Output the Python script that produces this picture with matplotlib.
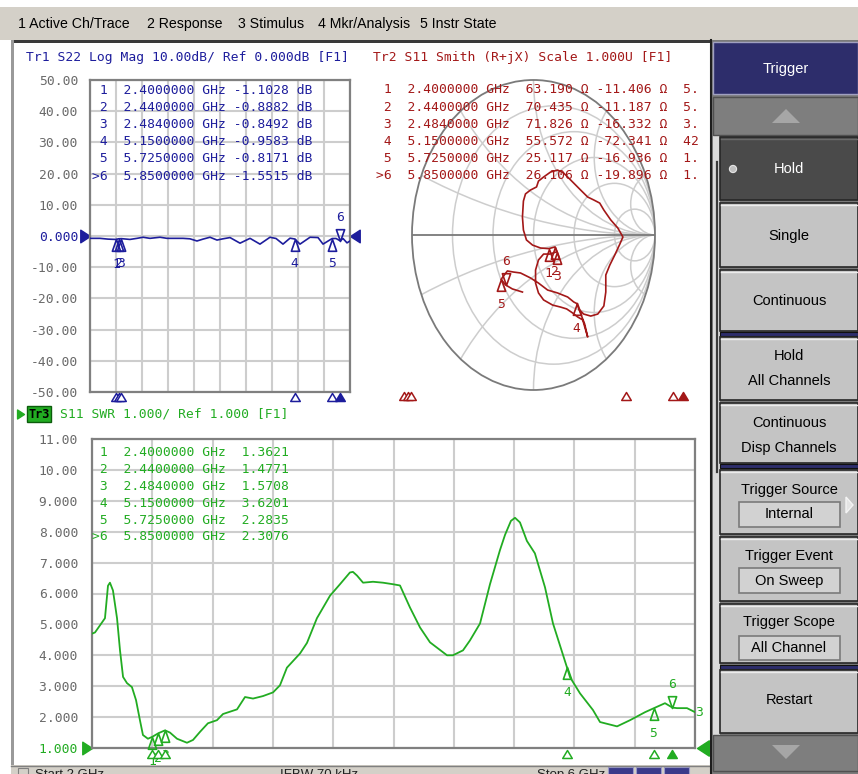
import numpy as np
import matplotlib
matplotlib.use("Agg")
import matplotlib.pyplot as plt
from matplotlib.patches import Rectangle, Circle, Polygon
from matplotlib.path import Path
from matplotlib.transforms import Bbox, TransformedBbox

# ---------------- data ----------------
FREQ_START, FREQ_STOP = 2.0, 6.0          # GHz
marker_ids = ['1', '2', '3', '4', '5', '6']
marker_freq = [2.40, 2.44, 2.484, 5.15, 5.725, 5.85]
active_marker = 5

tr1_marker_db = [-1.1028, -0.8882, -0.8492, -0.9583, -0.8171, -1.5515]
tr2_marker_r = [63.190, 70.435, 71.826, 55.572, 25.117, 26.106]
tr2_marker_x = [-11.406, -11.187, -16.332, -72.341, -16.936, -19.896]
tr3_marker_swr = [1.3621, 1.4771, 1.5708, 3.6201, 2.2835, 2.3076]

tr1_freq = [2.000, 2.154, 2.277, 2.400, 2.440, 2.484, 2.615, 2.723, 2.815, 2.923,
            3.077, 3.185, 3.431, 3.538, 3.646, 3.738, 3.846, 3.954, 4.046, 4.154,
            4.308, 4.462, 4.615, 4.769, 4.862, 4.969, 5.077, 5.150, 5.231, 5.385,
            5.508, 5.585, 5.725, 5.785, 5.850, 5.892, 5.954, 6.000]
tr1_db = [-0.75, -0.75, -1.0, -1.1028, -0.8882, -0.8492, -1.1, -0.75, -0.4, -0.75,
          -0.4, -0.75, -0.75, -0.9, -1.6, -1.0, -0.4, -1.3, -0.9, -0.5,
          -2.3, -0.75, -2.6, -0.4, -0.8, -2.6, -0.7, -0.9583, -2.6, -0.4,
          -0.5, -2.6, -0.8171, -0.8, -1.5515, -0.8, -2.2, -1.6]

tr3_freq = [2.000, 2.020, 2.053, 2.086, 2.106, 2.119, 2.139, 2.166, 2.186, 2.206,
            2.232, 2.265, 2.292, 2.318, 2.338, 2.371, 2.400, 2.440, 2.484, 2.517,
            2.564, 2.630, 2.670, 2.716, 2.769, 2.829, 2.869, 2.962, 3.015, 3.068,
            3.134, 3.201, 3.247, 3.293, 3.380, 3.426, 3.492, 3.579, 3.645, 3.711,
            3.731, 3.758, 3.798, 3.864, 3.930, 3.997, 4.043, 4.109, 4.176, 4.242,
            4.355, 4.394, 4.461, 4.507, 4.574, 4.640, 4.706, 4.740, 4.779, 4.806,
            4.839, 4.885, 4.938, 5.005, 5.058, 5.150, 5.171, 5.237, 5.323, 5.370,
            5.483, 5.569, 5.669, 5.725, 5.801, 5.850, 5.881, 5.947, 6.000]
tr3_swr = [4.70, 4.74, 4.97, 5.20, 6.25, 6.35, 6.10, 5.20, 4.15, 3.30,
           3.10, 2.97, 2.55, 1.90, 1.42, 1.30, 1.3621, 1.4771, 1.5708, 1.50,
           1.30, 1.17, 1.26, 1.52, 1.80, 1.90, 2.10, 2.25, 2.65, 2.60,
           2.68, 2.80, 3.03, 3.60, 4.06, 4.40, 5.20, 5.93, 6.30, 6.68,
           6.70, 6.58, 6.35, 6.38, 6.35, 6.30, 6.26, 5.55, 4.90, 4.42,
           4.00, 4.00, 4.16, 4.48, 5.03, 6.30, 7.40, 7.90, 8.35, 8.45,
           8.30, 7.70, 7.30, 6.20, 5.03, 3.6201, 3.29, 2.77, 2.23, 1.84,
           1.70, 1.90, 2.16, 2.2835, 2.45, 2.3076, 2.29, 2.29, 2.16]

# Smith trace, reflection coefficient (real, imag)
smith_re = [0.380, 0.413, 0.471, 0.529, 0.579, 0.595, 0.595, 0.628, 0.669, 0.711, 0.736,
            0.694, 0.636, 0.579, 0.545, 0.496, 0.446, 0.388, 0.331, 0.289, 0.248, 0.198,
            0.140, 0.083, 0.041, 0.025, -0.025, -0.066, -0.083, -0.091, -0.083, -0.058,
            -0.008, 0.058, 0.126, 0.177, 0.194,
            0.132, 0.083, 0.041, 0.017, 0.017, 0.041, 0.083, 0.157, 0.223, 0.273, 0.322,
            0.364, 0.405, 0.446, 0.421, 0.356,
            0.331, 0.281, 0.198, 0.116, 0.041, -0.025, -0.107, -0.165, -0.215, -0.267,
            -0.230, -0.174, -0.091]
smith_im = [-0.484, -0.510, -0.523, -0.510, -0.458, -0.368, -0.258, -0.194, -0.129, -0.058, -0.013,
            0.045, 0.097, 0.161, 0.206, 0.226, 0.245, 0.290, 0.335, 0.368, 0.400, 0.419,
            0.406, 0.374, 0.348, 0.310, 0.290, 0.265, 0.219, 0.116, 0.032, -0.032,
            -0.065, -0.084, -0.088, -0.077, -0.108,
            -0.123, -0.123, -0.161, -0.226, -0.310, -0.374, -0.419, -0.452, -0.465, -0.477, -0.503,
            -0.529, -0.548, -0.658, -0.574, -0.442,
            -0.432, -0.400, -0.374, -0.355, -0.310, -0.277, -0.245, -0.239, -0.232, -0.286,
            -0.322, -0.348, -0.368]

tr1_yticks = [50, 40, 30, 20, 10, 0, -10, -20, -30, -40, -50]
tr1_ylabels = ['50.00', '40.00', '30.00', '20.00', '10.00', '0.000',
               '-10.00', '-20.00', '-30.00', '-40.00', '-50.00']
tr3_yticks = [11, 10, 9, 8, 7, 6, 5, 4, 3, 2, 1]
tr3_ylabels = ['11.00', '10.00', '9.000', '8.000', '7.000', '6.000',
               '5.000', '4.000', '3.000', '2.000', '1.000']
smith_r_circles = [0.2, 0.5, 1.0, 2.0, 5.0]
smith_x_arcs = [0.2, 0.5, 1.0, 2.0, 5.0]

menu_items = ['1 Active Ch/Trace', '2 Response', '3 Stimulus', '4 Mkr/Analysis', '5 Instr State']
tr1_title = 'Tr1 S22 Log Mag 10.00dB/ Ref 0.000dB [F1]'
tr2_title = 'Tr2 S11 Smith (R+jX) Scale 1.000U [F1]'
tr3_title = 'S11 SWR 1.000/ Ref 1.000 [F1]'
status_items = ['Start 2 GHz', 'IFBW 70 kHz', 'Stop 6 GHz']

# ---------------- style ----------------
W, H = 858, 774
BLUE = '#1d1d9c'
RED = '#a31818'
GREEN = '#22ac22'
GRID = '#cdcdcd'
FRAME = '#808080'
TICK = '#6a6a6a'
MONO = 'DejaVu Sans Mono'
SANS = 'Liberation Sans'
FS = 9.4
MENU_BG = '#d4d0c8'
NAVY = '#2d2d6b'
BTN = '#c4c4c4'

fig = plt.figure(figsize=(W / 100, H / 100), dpi=100)


def px_axes(x0, y0, x1, y1):
    return fig.add_axes([x0 / W, 1 - y1 / H, (x1 - x0) / W, (y1 - y0) / H])


def px_canvas():
    a = px_axes(0, 0, W, H)
    a.set_xlim(0, W)
    a.set_ylim(H, 0)
    a.axis('off')
    return a


C3 = [Path.MOVETO, Path.LINETO, Path.LINETO, Path.CLOSEPOLY]
TRI_BELOW = Path([(0, 0), (-0.35, -1), (0.35, -1), (0, 0)], C3)
TRI_ABOVE = Path([(0, 0), (-0.35, 1), (0.35, 1), (0, 0)], C3)
TRI_SMALL = Path([(0, 0), (-0.6, -1), (0.6, -1), (0, 0)], C3)
ARROW_R = Path([(0, 0), (-1, 0.65), (-1, -0.65), (0, 0)], C3)
ARROW_L = Path([(0, 0), (1, 0.65), (1, -0.65), (0, 0)], C3)

# ---------------- background / chrome ----------------
bg = px_canvas()
bg.add_patch(Rectangle((0, 0), W, H, fc='white', ec='none'))
bg.add_patch(Rectangle((0, 7), W, 33, fc=MENU_BG, ec='none'))
for label_s, x in zip(menu_items, [18, 147, 238, 318, 420]):
    bg.text(x, 24, label_s, fontsize=10.2, family=SANS, va='center', ha='left', color='black')
bg.add_patch(Rectangle((11, 40), 700, 2.5, fc='#3a3a3a', ec='none'))
bg.add_patch(Rectangle((11, 40), 3, 730, fc='#9a9a9a', ec='none'))

# status bar (only the top of it is inside the picture)
bg.add_patch(Rectangle((11, 765), 700, 9, fc=MENU_BG, ec='none'))
bg.plot([11, 711], [765.5, 765.5], color='#808080', lw=1)
bg.add_patch(Rectangle((18, 768), 10, 8, fc=MENU_BG, ec='#808080', lw=0.8))
for label_s, x in zip(status_items, [35, 280, 537]):
    bg.text(x, 769, label_s, fontsize=9.5, family=SANS, va='top', ha='left', color='#202020')
for x in [608, 636, 664]:
    bg.add_patch(Rectangle((x, 767), 25, 9, fc='#3a3a8a', ec='#9a9ac8', lw=0.8))

# right softkey panel
bg.add_patch(Rectangle((710, 40), 148, 734, fc='#7a7a7a', ec='none'))
bg.plot([711, 711], [40, 774], color='#1e1e1e', lw=1.5)
bg.add_patch(Rectangle((713, 136), 7, 600, fc='#dadada', ec='none'))
bg.plot([716.5, 716.5], [162, 472], color='#3a3a3a', lw=1.6)

bg.add_patch(Rectangle((713, 42), 145, 52, fc=NAVY, ec='#a0a0c0', lw=1))
bg.text(786, 69, 'Trigger', color='white', fontsize=10.5, family=SANS, ha='center', va='center')

bg.add_patch(Rectangle((713, 97), 145, 38, fc='#7e7e7e', ec='#505050', lw=1))
bg.add_patch(Polygon([[772, 123], [800, 123], [786, 109]], closed=True, fc='#a6a6a6', ec='none'))
bg.add_patch(Rectangle((713, 735), 145, 36, fc='#7e7e7e', ec='#505050', lw=1))
bg.add_patch(Polygon([[772, 745], [800, 745], [786, 759]], closed=True, fc='#a6a6a6', ec='none'))


def button(y0, y1, fc=BTN):
    bg.add_patch(Rectangle((720, y0), 138, y1 - y0, fc=fc, ec='#262626', lw=1.2))
    bg.plot([721, 857], [y0 + 1.5, y0 + 1.5], color='#ececec' if fc == BTN else '#6a6a6a', lw=1)


def label(x, y, s, color='black', fs=10.5):
    bg.text(x, y, s, color=color, fontsize=fs, family=SANS, ha='center', va='center')


def valbox(y0, y1, s):
    bg.add_patch(Rectangle((739, y0), 101, y1 - y0, fc='#d2d2d2', ec='#7a7a7a', lw=1.2))
    label(789, (y0 + y1) / 2, s)


button(137, 200, fc='#4a4a4a')
bg.add_patch(Circle((733, 169), 3.6, fc='#c0c0c0', ec='#e6e6e6', lw=0.8))
label(789, 169, 'Hold', color='white')
button(203, 267)
label(789, 236, 'Single')
button(270, 331)
label(789, 301, 'Continuous')
bg.add_patch(Rectangle((720, 331.5), 138, 4.5, fc=NAVY, ec='#101010', lw=0.8))
button(337, 400)
label(789, 356, 'Hold')
label(789, 381, 'All Channels')
button(403, 463)
label(789, 423, 'Continuous')
label(789, 448, 'Disp Channels')
bg.add_patch(Rectangle((720, 463.5), 138, 4.5, fc=NAVY, ec='#101010', lw=0.8))
button(470, 534)
label(789, 490, 'Trigger Source')
valbox(502, 527, 'Internal')
bg.add_patch(Polygon([[846, 497], [853, 505], [846, 513]], closed=True, fc='#e4e4e4', ec='#f4f4f4'))
button(537, 601)
label(789, 556, 'Trigger Event')
valbox(568, 593, 'On Sweep')
button(604, 663)
label(789, 622, 'Trigger Scope')
valbox(636, 660, 'All Channel')
bg.add_patch(Rectangle((720, 664.5), 138, 4.5, fc=NAVY, ec='#101010', lw=0.8))
button(670, 733)
label(789, 700, 'Restart')


# ---------------- helpers for traces ----------------
def style_rect_axes(ax, yticks, ylabels, ylim, pad_px, ref_index, ref_color):
    ax.set_xlim(FREQ_START, FREQ_STOP)
    ax.set_ylim(*ylim)
    ax.set_xticks(np.linspace(FREQ_START, FREQ_STOP, 11))
    ax.set_xticklabels([])
    ax.set_yticks(yticks)
    ax.set_yticklabels(ylabels, family=MONO, fontsize=FS, color=TICK)
    ax.get_yticklabels()[ref_index].set_color(ref_color)
    ax.tick_params(length=0, pad=pad_px * 0.72)
    ax.grid(True, color=GRID, lw=1.5)
    ax.set_axisbelow(True)
    for s in ax.spines.values():
        s.set_color(FRAME)
        s.set_linewidth(1.6)


def trace_markers(ax, freqs, vals, color):
    for i, (f, v) in enumerate(zip(freqs, vals)):
        above = (i == active_marker)
        ax.plot([f], [v], ls='none', marker=TRI_ABOVE if above else TRI_BELOW, ms=17,
                mfc='none', mec=color, mew=1.2, clip_on=False, zorder=6)
        ax.annotate(marker_ids[i], (f, v), xytext=(0, 16.5 if above else -18),
                    textcoords='offset points', ha='center', va='center', color=color,
                    family=MONO, fontsize=FS, annotation_clip=False, zorder=6)


def stim_strip(x0, x1, ytop, color):
    a = px_axes(x0, ytop, x1, ytop + 10)
    a.set_xlim(FREQ_START, FREQ_STOP)
    a.set_ylim(0, 1)
    a.axis('off')
    for i, f in enumerate(marker_freq):
        a.plot([f], [1], ls='none', marker=TRI_SMALL, ms=11.5,
               mfc=color if i == active_marker else 'white', mec=color, mew=1.1, clip_on=False)


# ---------------- Tr1 : S22 log mag ----------------
ax1 = px_axes(90, 80, 350, 392)
style_rect_axes(ax1, tr1_yticks, tr1_ylabels, (-50, 50), 12, 5, BLUE)
ax1.plot(tr1_freq, tr1_db, color=BLUE, lw=1.2, zorder=4)
trace_markers(ax1, marker_freq, tr1_marker_db, BLUE)
ax1.plot([0], [0], transform=ax1.get_yaxis_transform(), ls='none', marker=ARROW_R, ms=14,
         color=BLUE, clip_on=False)
ax1.plot([1], [0], transform=ax1.get_yaxis_transform(), ls='none', marker=ARROW_L, ms=14,
         color=BLUE, clip_on=False)
stim_strip(90, 350, 393, BLUE)

# ---------------- Tr3 : S11 SWR ----------------
ax3 = px_axes(92, 439, 695, 748)
style_rect_axes(ax3, tr3_yticks, tr3_ylabels, (1, 11), 14, 10, GREEN)
ax3.plot(tr3_freq, tr3_swr, color=GREEN, lw=1.3, zorder=4)
trace_markers(ax3, marker_freq, tr3_marker_swr, GREEN)
ax3.plot([0], [1], transform=ax3.get_yaxis_transform(), ls='none', marker=ARROW_R, ms=14,
         color=GREEN, clip_on=False)
ax3.plot([1.003], [1], transform=ax3.get_yaxis_transform(), ls='none', marker=ARROW_L, ms=17,
         color=GREEN, clip_on=False)
stim_strip(92, 695, 750, GREEN)

# ---------------- Tr2 : Smith chart ----------------
sm = px_axes(412, 80, 655, 390)
sm.set_xlim(-1, 1)
sm.set_ylim(-1, 1)
sm.axis('off')
unit = Circle((0, 0), 1, fill=False, ec='#7a7a7a', lw=1.3, zorder=3)
sm.add_patch(unit)
unit.set_clip_on(False)
for r in smith_r_circles:
    c = Circle((r / (1 + r), 0), 1 / (1 + r), fill=False, ec=GRID, lw=1.1, zorder=1)
    sm.add_patch(c)
for xv in smith_x_arcs:
    for sgn in (1, -1):
        c = Circle((1, sgn / xv), 1 / xv, fill=False, ec=GRID, lw=1.1, zorder=1)
        sm.add_patch(c)
        c.set_clip_path(unit)
sm.plot([-1, 1], [0, 0], color='#7a7a7a', lw=1.3, zorder=2)
sm.plot(smith_re, smith_im, color=RED, lw=1.2, zorder=4)
z = (np.array(tr2_marker_r) + 1j * np.array(tr2_marker_x)) / 50.0
gam = (z - 1) / (z + 1)
trace_markers(sm, gam.real, gam.imag, RED)
stim_strip(372, 695, 392, RED)

# ---------------- text overlay ----------------
ov = px_canvas()
ov.text(26, 58, tr1_title, color=BLUE, family=MONO, fontsize=FS, va='center', ha='left')
ov.text(373, 58, tr2_title, color=RED, family=MONO, fontsize=FS, va='center', ha='left')

# Tr3 header
ov.plot([24], [414], ls='none', marker=ARROW_R, ms=10, color=GREEN)
ov.add_patch(Rectangle((27, 406), 24, 16, fc=GREEN, ec='#0c5c0c', lw=1))
ov.text(39, 414.5, 'Tr3', color='black', family=MONO, fontsize=8.6, va='center', ha='center',
        fontweight='bold')
ov.text(60, 414, tr3_title, color=GREEN, family=MONO, fontsize=FS, va='center', ha='left')


def prefix(i):
    return '>' + marker_ids[i] if i == active_marker else ' ' + marker_ids[i]


for i in range(6):
    y = 90 + 17.2 * i
    ov.text(92, y, f"{prefix(i)}  {marker_freq[i]:.7f} GHz {tr1_marker_db[i]:.4f} dB",
            color=BLUE, family=MONO, fontsize=FS, va='center', ha='left')

clip = TransformedBbox(Bbox([[0, 0], [698, H]]), ov.transData)
for i in range(6):
    y = 90 + 17.2 * i
    cap = 1.0 / (2 * np.pi * marker_freq[i] * 1e9 * abs(tr2_marker_x[i]))
    cap_s = f"{cap * 1e15:.3f} fF" if cap < 1e-12 else f"{cap * 1e12:.4f} pF"
    t = ov.text(376, y, f"{prefix(i)}  {marker_freq[i]:.7f} GHz  {tr2_marker_r[i]:.3f} \u03a9 "
                        f"{tr2_marker_x[i]:.3f} \u03a9  {cap_s}",
                color=RED, family=MONO, fontsize=FS, va='center', ha='left')
    t.set_clip_box(clip)
    t.set_clip_on(True)

for i in range(6):
    y = 453 + 16.8 * i
    ov.text(92, y, f"{prefix(i)}  {marker_freq[i]:.7f} GHz  {tr3_marker_swr[i]:.4f}",
            color=GREEN, family=MONO, fontsize=FS, va='center', ha='left')

ov.text(699, 712, '3', color=GREEN, family=MONO, fontsize=FS, va='center', ha='center')

fig.savefig('out.png', dpi=100)
